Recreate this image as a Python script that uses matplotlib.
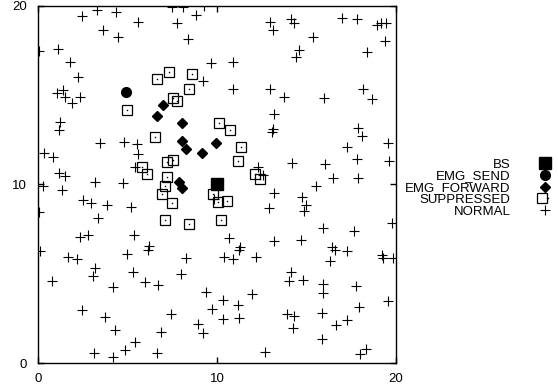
import matplotlib
matplotlib.use("Agg")
import matplotlib.pyplot as plt
from matplotlib.legend_handler import HandlerTuple

plt.rcParams['font.family'] = ['Liberation Sans', 'DejaVu Sans']

# node positions
bs_x = [10.0]
bs_y = [10.0]

send_x = [4.91]
send_y = [15.17]

fwd_x = [7.00, 6.66, 8.02, 8.06, 8.25, 9.14, 9.94, 7.89, 8.06]
fwd_y = [14.45, 13.83, 13.44, 12.45, 11.99, 11.75, 12.34, 10.16, 9.82]

sup_x = [6.63, 7.33, 8.58, 8.45, 7.52, 7.78, 4.95, 10.13, 10.73, 6.53,
         11.33, 11.19, 7.19, 7.55, 5.79, 6.10, 7.22, 12.13, 12.41, 7.09,
         6.91, 7.47, 9.79, 10.07, 10.54, 7.09, 8.43, 10.22]
sup_y = [15.90, 16.31, 16.16, 15.32, 14.82, 14.69, 14.17, 13.42, 13.05, 12.67,
         12.08, 11.31, 11.28, 11.37, 10.96, 10.57, 10.44, 10.57, 10.31, 9.93,
         9.45, 8.95, 9.45, 9.04, 9.08, 8.01, 7.77, 8.01]

norm_x = [
    # top band
    2.43, 3.27, 4.35, 5.60, 3.60, 4.48, 0.06, 1.09, 1.77, 2.24, 1.03, 1.40,
    1.49, 1.87, 2.33, 1.21, 1.18, 7.47, 8.11, 9.29, 8.82, 7.78, 12.97, 13.12,
    8.36, 9.65, 10.91, 9.23, 10.88, 12.97, 13.19, 14.12, 14.31, 16.98, 17.82,
    18.94, 19.18, 19.46, 15.39, 19.40, 14.61, 14.42, 18.38, 13.75, 16.00,
    18.15, 18.66,
    # middle band
    3.45, 4.80, 5.54, 5.60, 0.32, 0.84, 1.18, 1.49, 5.41, 0.28, 1.31, 3.17,
    4.72, 2.52, 2.95, 3.86, 5.17, 0.06, 3.32, 2.32, 2.80, 5.38, 13.13, 13.08,
    12.31, 12.59, 13.19, 12.93, 10.69, 13.19, 9.86, 17.91, 18.10, 17.26,
    19.59, 14.18, 16.04, 17.82, 19.64, 16.51, 17.91, 15.52, 14.77, 14.98,
    14.89, 19.78, 15.95, 17.67, 14.68,
    # bottom band
    0.10, 1.68, 2.15, 4.98, 6.21, 6.16, 3.17, 3.08, 5.28, 0.75, 5.97, 6.68,
    4.20, 2.43, 3.73, 4.29, 6.84, 5.41, 4.85, 3.13, 4.16, 6.66, 11.29, 11.25,
    8.27, 10.39, 10.88, 12.17, 7.99, 9.38, 10.32, 11.98, 9.70, 11.16, 7.41,
    10.32, 11.25, 8.95, 9.20, 12.69, 16.46, 16.60, 17.26, 16.32, 19.22,
    19.31, 19.83, 14.12, 14.05, 14.83, 15.92, 15.92, 17.78, 19.59, 17.96,
    13.90, 14.33, 15.86, 14.27, 17.26, 16.66, 15.86, 18.34, 18.00,
]
norm_y = [
    19.44, 19.76, 19.67, 19.07, 18.64, 18.27, 17.48, 17.58, 16.83, 16.03,
    15.10, 15.29, 14.91, 14.54, 14.88, 13.47, 13.05, 19.91, 19.94, 20.00,
    19.48, 19.05, 19.09, 18.66, 18.14, 16.78, 16.87, 15.81, 15.32, 15.32,
    13.96, 19.24, 19.02, 19.30, 19.24, 18.92, 19.05, 19.05, 18.27, 18.04,
    17.52, 17.11, 17.43, 14.91, 14.82, 15.32, 14.78,
    12.30, 12.36, 12.25, 11.71, 11.75, 11.56, 10.63, 10.49, 10.96, 9.93,
    9.69, 10.12, 10.07, 9.13, 8.95, 8.85, 8.76, 8.45, 8.11, 7.06, 7.18, 7.20,
    13.10, 12.94, 10.96, 10.53, 9.51, 8.67, 6.99, 6.84, 9.19, 13.18, 12.73,
    12.11, 12.30, 11.19, 11.13, 11.41, 11.31, 10.35, 10.38, 9.92, 9.32, 8.85,
    8.52, 7.83, 7.55, 7.42, 6.90,
    6.28, 5.96, 5.82, 6.10, 6.58, 6.34, 5.35, 4.88, 5.12, 4.60, 4.56, 4.38,
    4.25, 2.98, 2.61, 1.86, 1.75, 1.21, 0.74, 0.59, 0.38, 0.56, 6.52, 6.34,
    5.91, 5.96, 5.83, 5.93, 4.99, 4.00, 3.54, 3.88, 3.04, 3.26, 2.76, 2.48,
    2.55, 2.18, 1.71, 0.65, 6.53, 6.34, 6.28, 5.72, 6.06, 5.91, 5.91, 5.09,
    4.60, 4.66, 4.44, 3.92, 4.32, 3.50, 3.17, 2.74, 2.65, 2.80, 1.99, 2.42,
    2.14, 1.36, 0.78, 0.52,
]

fig = plt.figure(figsize=(5.58, 3.92), dpi=100)
ax = fig.add_axes([0.0686, 0.0732, 0.6405, 0.9123])

h_bs, = ax.plot(bs_x, bs_y, 's', color='black', ms=8, zorder=5)
h_send, = ax.plot(send_x, send_y, 'o', color='black', ms=7, zorder=5)
h_fwd, = ax.plot(fwd_x, fwd_y, 'D', color='black', ms=4.8, zorder=5)
h_sup, = ax.plot(sup_x, sup_y, 's', mfc='none', mec='black', ms=6.5, mew=0.9, zorder=4)
h_dot, = ax.plot(sup_x, sup_y, 's', color='black', ms=1, mew=0, zorder=4)
h_norm, = ax.plot(norm_x, norm_y, '+', color='black', ms=7.5, mew=0.8, zorder=3)

ax.set_xlim(0, 20)
ax.set_ylim(0, 20)
ax.set_xticks([0, 10, 20])
ax.set_yticks([0, 10, 20])
ax.tick_params(direction='in', length=4, width=1, top=True, right=True,
               labelsize=9.5, colors='black')
ax.tick_params(axis='y', pad=8)
ax.tick_params(axis='x', pad=7)
for s in ax.spines.values():
    s.set_linewidth(1)

# legend: labels right-aligned, samples on the right (gnuplot key style)
leg = fig.legend([h_bs, h_send, h_fwd, (h_sup, h_dot), h_norm],
                 ['BS', 'EMG_SEND', 'EMG_FORWARD', 'SUPPRESSED', 'NORMAL'],
                 handler_map={tuple: HandlerTuple(ndivide=None)},
                 loc='center right', bbox_to_anchor=(0.9885, 0.52),
                 frameon=False, markerfirst=False, fontsize=9.5,
                 handlelength=1.0, handletextpad=2.1, labelspacing=-0.04,
                 borderpad=0, borderaxespad=0)

fig.savefig('out.png', dpi=100)
